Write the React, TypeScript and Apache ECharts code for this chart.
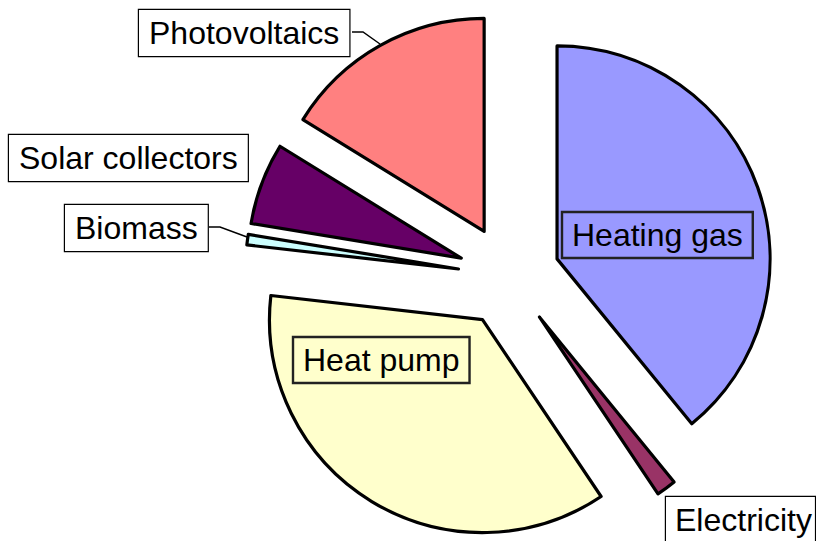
import React, { useEffect, useRef } from "react";
import * as echarts from "echarts";

const categories = ["Heating gas", "Electricity", "Heat pump", "Biomass", "Solar collectors", "Photovoltaics"];
const shares = [39.1, 1.5, 36.2, 0.8, 6.2, 16.2];
const colors = ["#9999FF", "#993366", "#FFFFCC", "#CCFFFF", "#660066", "#FF8080"];
const labelInside = [true, false, true, false, false, false];

// label box top-left corners (layout, not data)
const labelSpots: [number, number][] = [
  [562, 212],
  [666, 497],
  [293, 337],
  [65, 205],
  [9, 135],
  [139, 10],
];
// leader lines for the labels that carry one (layout)
const leaders: [number, number][][] = [
  [[352, 32], [363, 32], [380, 44]],
  [[209, 227], [220, 227], [247, 237]],
];

export default function App() {
  const ref = useRef<HTMLDivElement>(null);
  useEffect(() => {
    if (!ref.current) return;
    const chart = echarts.init(ref.current, undefined, { renderer: "svg" });
    const font = "32px 'Liberation Sans', Arial, sans-serif";
    chart.setOption({
      animation: false,
      backgroundColor: "#fff",
      series: [
        {
          type: "pie",
          center: [509, 276],
          radius: 213,
          startAngle: 90,
          clockwise: true,
          selectedMode: "multiple",
          selectedOffset: 51,
          avoidLabelOverlap: false,
          emphasis: { disabled: true },
          itemStyle: { borderColor: "#000", borderWidth: 3.2 },
          select: { itemStyle: { borderColor: "#000", borderWidth: 3.2 } },
          label: { show: false },
          labelLine: { show: false },
          data: categories.map((name, i) => ({
            name,
            value: shares[i],
            selected: true,
            itemStyle: { color: colors[i] },
          })),
        },
      ],
      graphic: [
        ...leaders.map((pts) => ({
          type: "polyline",
          shape: { points: pts },
          style: { stroke: "#000", lineWidth: 1.5, fill: null },
          z: 10,
        })),
        ...categories.map((name, i) => ({
          type: "text",
          x: labelSpots[i][0],
          y: labelSpots[i][1],
          z: 11,
          style: {
            text: name,
            font,
            fill: "#000",
            lineHeight: 34,
            backgroundColor: labelInside[i] ? "transparent" : "#fff",
            borderColor: labelInside[i] ? "#222" : "#000",
            borderWidth: 1.2,
            padding: i === 1 ? [6, 3, 6, 9] : [6, 10, 6, 10],
            align: "left",
            verticalAlign: "top",
          },
        })),
      ],
    });
    return () => chart.dispose();
  }, []);
  return (
    <div
      ref={ref}
      style={{ position: "fixed", left: 0, top: 0, width: 816, height: 541 }}
    />
  );
}
